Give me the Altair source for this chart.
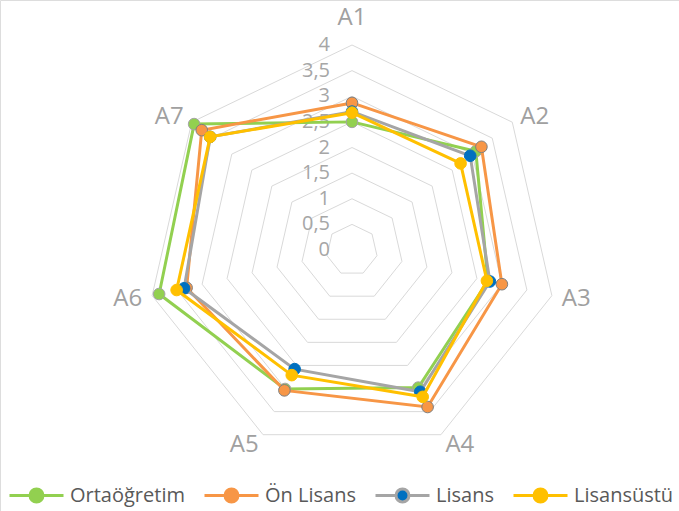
import math
import altair as alt
import pandas as pd

# ---------------- data ----------------
categories = ["A1", "A2", "A3", "A4", "A5", "A6", "A7"]
series_names = ["Ortaöğretim", "Ön Lisans", "Lisans", "Lisansüstü"]
ortaogretim = [2.50, 3.09, 2.72, 2.98, 3.01, 3.86, 3.94]
on_lisans = [2.87, 3.23, 3.00, 3.40, 3.04, 3.31, 3.75]
lisans = [2.70, 2.95, 2.76, 3.07, 2.58, 3.36, 3.54]
lisansustu = [2.68, 2.71, 2.70, 3.18, 2.71, 3.51, 3.54]
tick_values = [0, 0.5, 1, 1.5, 2, 2.5, 3, 3.5, 4]
tick_labels = ["0", "0,5", "1", "1,5", "2", "2,5", "3", "3,5", "4"]

# ---------------- styles ----------------
line_colors = ["#92D050", "#F79646", "#A5A5A5", "#FFC000"]
marker_colors = ["#92D050", "#F79646", "#0070C0", "#FFC000"]
marker_outlines = ["#A5A5A5", "#7F7F7F", "#0070C0", "#FFC000"]
FONT = "Open Sans"
W, H = 679, 511
CX, CY, PX_PER_UNIT = 352, 250, 51.25
LABEL_R = 4.2

N = len(categories)
rows = []
for s, vals in zip(series_names, [ortaogretim, on_lisans, lisans, lisansustu]):
    for i in range(N + 1):
        rows.append({"series": s, "idx": i, "cat": categories[i % N], "value": vals[i % N]})
df = pd.DataFrame(rows)

grid = pd.DataFrame([{"level": t, "idx": i, "value": t}
                     for t in tick_values[1:] for i in range(N + 1)])
ticks = pd.DataFrame({"value": tick_values, "label": tick_labels, "idx": [0] * len(tick_values)})
cats = pd.DataFrame({"cat": categories, "idx": list(range(N)), "value": [LABEL_R] * N})

xscale = alt.Scale(domain=[-CX / PX_PER_UNIT, (W - CX) / PX_PER_UNIT], nice=False, zero=False)
yscale = alt.Scale(domain=[-(H - CY) / PX_PER_UNIT, CY / PX_PER_UNIT], nice=False, zero=False)


def polar(ch):
    return ch.transform_calculate(
        ang=f"2*PI*datum.idx/{N}"
    ).transform_calculate(
        px="datum.value*sin(datum.ang)", py="datum.value*cos(datum.ang)"
    )


X = alt.X("px:Q", scale=xscale, axis=None)
Y = alt.Y("py:Q", scale=yscale, axis=None)

grid_layer = polar(alt.Chart(grid)).mark_line(color="#D9D9D9", strokeWidth=1).encode(
    x=X, y=Y, detail="level:N", order="idx:Q")

tick_layer = polar(alt.Chart(ticks)).mark_text(
    align="right", baseline="middle", dx=-22, font=FONT, fontSize=20, color="#A6A6A6"
).encode(x=X, y=Y, text="label:N")

layers = [grid_layer, tick_layer]

for i, c in enumerate(categories):
    a = 2 * math.pi * i / N
    s, co = math.sin(a), math.cos(a)
    align = "left" if s > 0.3 else ("right" if s < -0.3 else "center")
    dy = -17 if co > 0.9 else 1
    layers.append(
        polar(alt.Chart(cats)).transform_filter(alt.datum.cat == c).mark_text(
            align=align, baseline="middle", dy=dy, font=FONT, fontSize=24, color="#A0A0A0"
        ).encode(x=X, y=Y, text="cat:N")
    )

r_u = 0.24
sym_path = (f"M-1,0H{-r_u}M{r_u},0H1M{-r_u},0A{r_u},{r_u},0,1,0,{r_u},0"
            f"A{r_u},{r_u},0,1,0,{-r_u},0Z")
leg = alt.Legend(
    title=None, orient="none", legendX=8, legendY=467, direction="horizontal", columns=4,
    symbolType=sym_path, symbolSize=54 * 54, symbolStrokeWidth=3, symbolOpacity=1,
    labelFont=FONT, labelFontSize=20, labelColor="#595959", labelOffset=5,
    columnPadding=13, padding=0,
)
stroke_scale = alt.Scale(domain=series_names, range=line_colors)
fill_scale = alt.Scale(domain=series_names, range=marker_colors)

for i, s in enumerate(series_names):
    base = polar(alt.Chart(df)).transform_filter(alt.datum.series == s)
    layers.append(base.mark_line(strokeWidth=3).encode(
        x=X, y=Y, order="idx:Q",
        stroke=alt.Stroke("series:N", scale=stroke_scale, legend=leg)))
    layers.append(base.transform_filter(alt.datum.idx < N).mark_circle(
        size=135, opacity=1, stroke=marker_outlines[i], strokeWidth=1
    ).encode(x=X, y=Y, fill=alt.Fill("series:N", scale=fill_scale, legend=leg)))

chart = alt.layer(*layers).properties(
    width=W, height=H, autosize=alt.AutoSizeParams(type="none"), padding=0
).configure_view(stroke=None).configure(background="white")

chart.save("out.html", embed_options={"renderer": "svg", "actions": False})
